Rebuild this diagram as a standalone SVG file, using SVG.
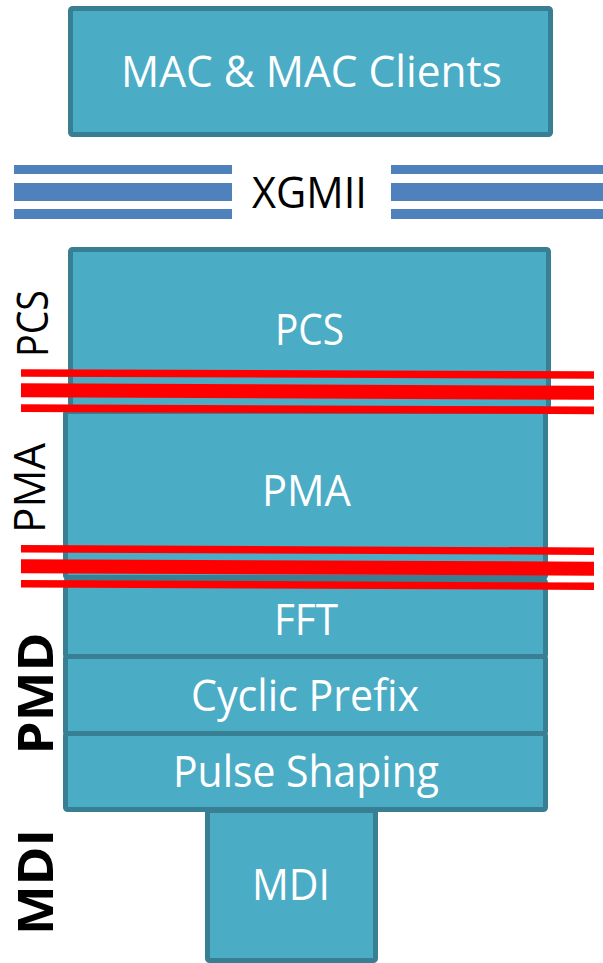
<svg xmlns="http://www.w3.org/2000/svg" width="603" height="963" viewBox="0 0 603 963">
<style>
.box{fill:#4BACC6;stroke:#387F93;stroke-width:5}
.wt{fill:#FFFFFF;font-family:"Open Sans","Liberation Sans",sans-serif;font-size:43px;text-anchor:middle}
.bt{fill:#000000;font-family:"Open Sans","Liberation Sans",sans-serif;font-size:43px;text-anchor:middle}
.bb{fill:#000000;font-family:"Open Sans","Liberation Sans",sans-serif;font-size:49px;font-weight:bold;text-anchor:middle}
.bar{fill:#4F81BD}
.red{stroke:#FF0000;fill:none}
</style>
<rect width="603" height="963" fill="#FFFFFF"/>
<g id="mac"><rect class="box" x="70.5" y="8.5" width="480" height="126" rx="2"/><text class="wt" x="311.5" y="87" textLength="381" lengthAdjust="spacingAndGlyphs">MAC &amp; MAC Clients</text></g>
<g id="xgmii">
<rect class="bar" x="14" y="165" width="218" height="9"/><rect class="bar" x="14" y="183" width="218" height="18"/><rect class="bar" x="14" y="209" width="218" height="10"/>
<rect class="bar" x="391" y="165" width="212" height="9"/><rect class="bar" x="391" y="183" width="212" height="18"/><rect class="bar" x="391" y="209" width="212" height="10"/>
<text class="bt" x="309.5" y="208" textLength="115" lengthAdjust="spacingAndGlyphs">XGMII</text>
</g>
<g id="pcs"><rect class="box" x="70.5" y="249.5" width="478" height="159" rx="2"/><text class="wt" x="309.5" y="345" textLength="69" lengthAdjust="spacingAndGlyphs">PCS</text></g>
<g id="pma"><rect class="box" x="65.5" y="411.5" width="480" height="166" rx="2"/><text class="wt" x="306.5" y="506" textLength="89" lengthAdjust="spacingAndGlyphs">PMA</text></g>
<g id="fft"><rect class="box" x="65.5" y="580.5" width="480" height="76" rx="2"/><text class="wt" x="306" y="635" textLength="64" lengthAdjust="spacingAndGlyphs">FFT</text></g>
<g id="cyclic"><rect class="box" x="65.5" y="656.5" width="480" height="77" rx="2"/><text class="wt" x="305" y="711" textLength="228" lengthAdjust="spacingAndGlyphs">Cyclic Prefix</text></g>
<g id="mdi"><rect class="box" x="207.5" y="810.5" width="168" height="150" rx="2"/><text class="wt" x="291" y="900" textLength="78" lengthAdjust="spacingAndGlyphs">MDI</text></g>
<g id="pulse"><rect class="box" x="65.5" y="733.5" width="480" height="76" rx="2"/><text class="wt" x="306" y="787" textLength="266" lengthAdjust="spacingAndGlyphs">Pulse Shaping</text></g>
<g id="connectors">
<line class="red" x1="21" y1="373" x2="594" y2="375" stroke-width="7.5"/>
<line class="red" x1="21" y1="390.3" x2="594" y2="392.8" stroke-width="14"/>
<line class="red" x1="21" y1="408.2" x2="594" y2="410.3" stroke-width="7.7"/>
<line class="red" x1="21" y1="548.7" x2="594" y2="551.2" stroke-width="7.4"/>
<line class="red" x1="21" y1="566.3" x2="594" y2="568.7" stroke-width="14"/>
<line class="red" x1="21" y1="583.7" x2="594" y2="586.3" stroke-width="7.4"/>
</g>
<g id="labels">
<text class="bt" transform="translate(48,323.5) rotate(-90)" textLength="67" lengthAdjust="spacingAndGlyphs">PCS</text>
<text class="bt" transform="translate(45,488) rotate(-90)" textLength="90" lengthAdjust="spacingAndGlyphs">PMA</text>
<text class="bb" transform="translate(53,693.5) rotate(-90)" textLength="122" lengthAdjust="spacingAndGlyphs">PMD</text>
<text class="bb" transform="translate(53,882) rotate(-90)" textLength="106" lengthAdjust="spacingAndGlyphs">MDI</text>
</g>
</svg>
